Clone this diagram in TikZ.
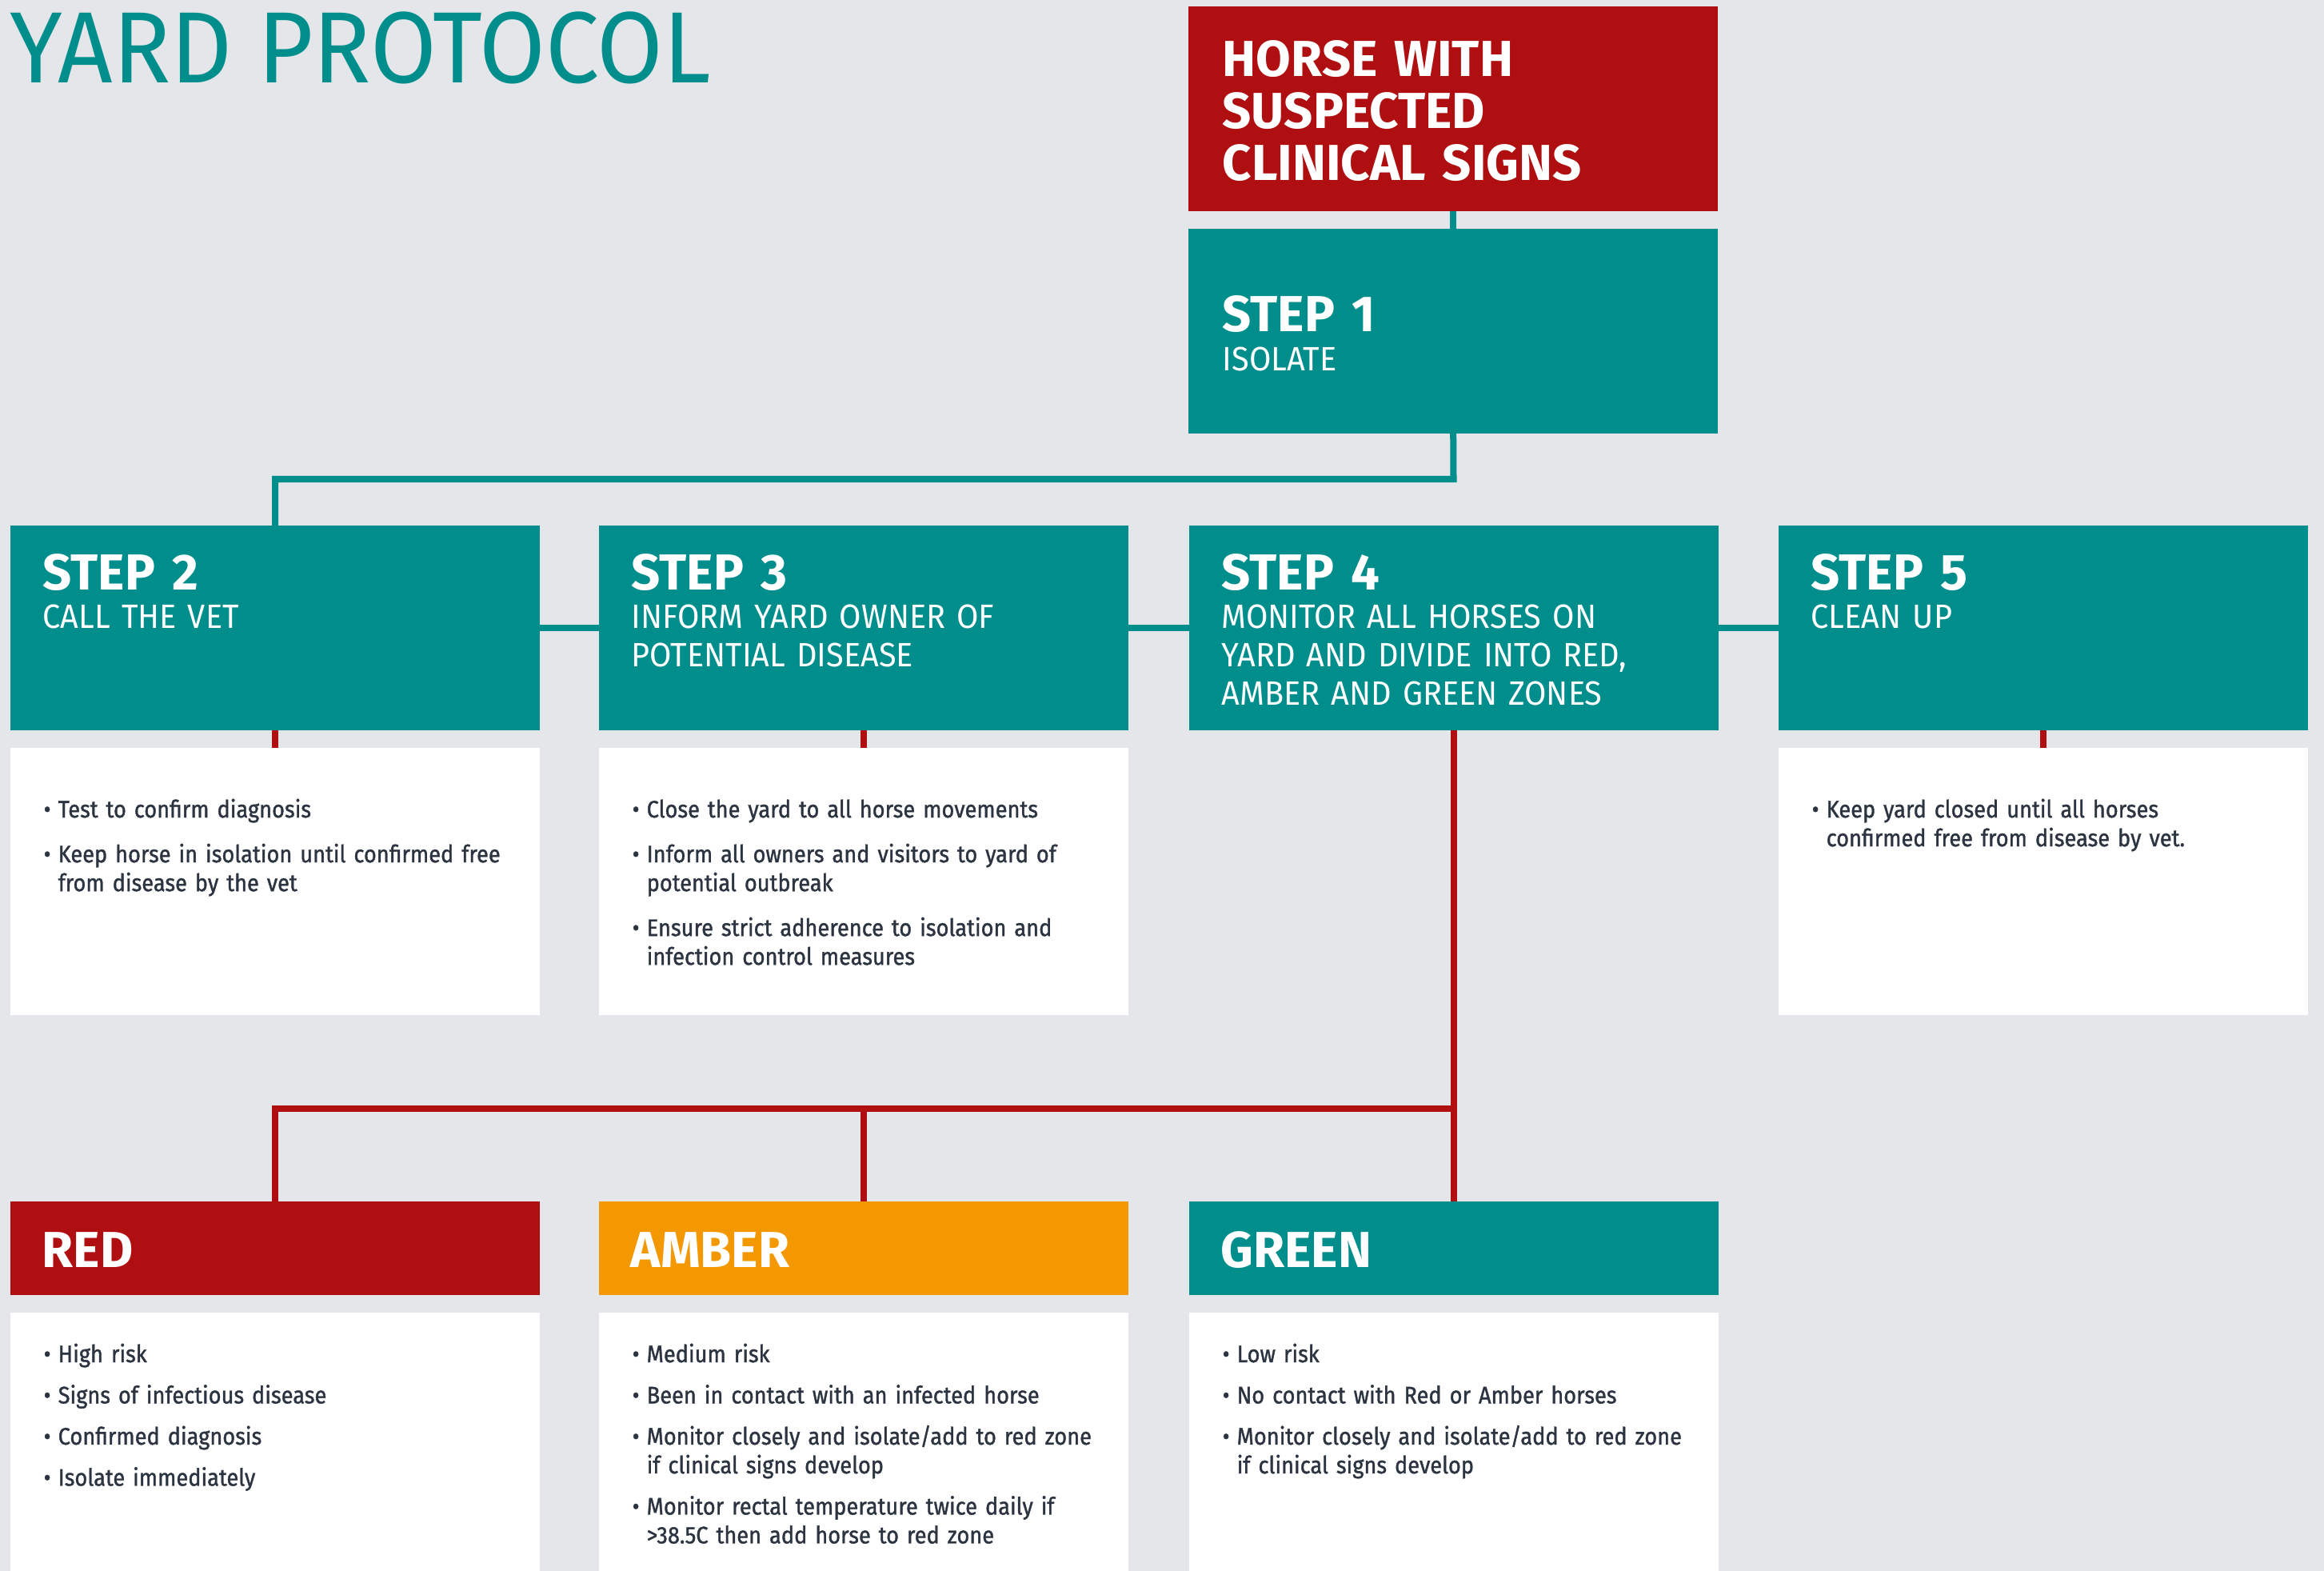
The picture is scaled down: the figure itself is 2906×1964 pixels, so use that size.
\documentclass[tikz,border=0pt]{standalone}
\usepackage{fontspec}
\setmainfont{Fira Sans}
\newfontfamily\titlefont{Fira Sans}[FakeStretch=0.945]
\newfontfamily\subfont{Fira Sans}[FakeStretch=0.94]
\newfontfamily\bulfont{Fira Sans}[FakeStretch=0.91,FakeBold=1.2]
\definecolor{yteal}{HTML}{008E8C}
\definecolor{yred}{HTML}{B00F11}
\definecolor{yamber}{HTML}{F39800}
\definecolor{ybg}{HTML}{E5E6EA}
\definecolor{ytext}{HTML}{2B3440}
\newcommand\bu{\makebox[0.18cm][l]{\textbullet}}
\newcommand\cont{\hspace*{0.18cm}}
\begin{document}
\begin{tikzpicture}[x=0.01cm,y=-0.01cm,
  box/.style={rectangle,inner sep=0pt,outer sep=0pt,anchor=north west,minimum width=6.62cm},
  hbox/.style={box,minimum height=2.56cm},
  tealbox/.style={hbox,fill=yteal},
  notebox/.style={box,fill=white,minimum height=3.34cm},
  zonebox/.style={box,minimum height=1.17cm},
  zonenote/.style={box,fill=white,minimum height=3.23cm},
  head/.style={anchor=base west,inner sep=0pt,text=white,align=left,text width=6cm,font=\bfseries\fontsize{18}{18.35}\selectfont},
  sub/.style={anchor=base west,inner sep=0pt,text=white,align=left,text width=6cm,font=\subfont\fontsize{12}{13.66}\selectfont},
  bul/.style={anchor=base west,inner sep=0pt,text=ytext,align=left,text width=6.5cm,font=\bulfont\fontsize{8.5}{10.24}\selectfont},
  tline/.style={draw=yteal,line width=0.08cm,line join=miter},
  rline/.style={draw=yred,line width=0.08cm,line join=miter},
]
\useasboundingbox (0,0) rectangle (2906,1964);
\fill[ybg] (0,0) rectangle (2906,1964);

\node[anchor=base west,inner sep=0pt,text=yteal,font=\titlefont\fontsize{36}{40}\selectfont] (title) at (12,104) {YARD PROTOCOL};

% top boxes
\node[hbox,fill=yred] (horse) at (1486,8) {};
\node[tealbox] (step1) at (1486,286) {};
\node[head] (horsetxt) at (1528,96) {HORSE WITH\\SUSPECTED\\CLINICAL SIGNS};
\node[head] (s1h) at (1528,415) {STEP 1};
\node[sub] (s1s) at (1528,464) {ISOLATE};

% step row
\node[tealbox] (step2) at (13,657) {};
\node[tealbox] (step3) at (749,657) {};
\node[tealbox] (step4) at (1487,657) {};
\node[tealbox] (step5) at (2224,657) {};
\node[head] (s2h) at (53,737) {STEP 2};
\node[head] (s3h) at (789,737) {STEP 3};
\node[head] (s4h) at (1527,737) {STEP 4};
\node[head] (s5h) at (2264,737) {STEP 5};
\node[sub] (s2s) at (53,785) {CALL THE VET};
\node[sub] (s3s) at (789,785) {INFORM YARD OWNER OF\\POTENTIAL DISEASE};
\node[sub] (s4s) at (1527,785) {MONITOR ALL HORSES ON\\YARD AND DIVIDE INTO RED,\\AMBER AND GREEN ZONES};
\node[sub] (s5s) at (2264,785) {CLEAN UP};

% step notes
\node[notebox] (note2) at (13,935) {};
\node[notebox] (note3) at (749,935) {};
\node[notebox] (note5) at (2224,935) {};
\node[bul] (n2t) at (54,1022) {\bu Test to confirm diagnosis\\[5.7pt]
\bu Keep horse in isolation until confirmed free\\
\cont from disease by the vet};
\node[bul] (n3t) at (790,1022) {\bu Close the yard to all horse movements\\[5.7pt]
\bu Inform all owners and visitors to yard of\\
\cont potential outbreak\\[5.7pt]
\bu Ensure strict adherence to isolation and\\
\cont infection control measures};
\node[bul] (n5t) at (2265,1022) {\bu Keep yard closed until all horses\\
\cont confirmed free from disease by vet.};

% zones
\node[zonebox,fill=yred] (red) at (13,1502) {};
\node[zonebox,fill=yamber] (amber) at (749,1502) {};
\node[zonebox,fill=yteal] (green) at (1487,1502) {};
\node[head] (redh) at (52,1584) {RED};
\node[head] (amberh) at (788,1584) {AMBER};
\node[head] (greenh) at (1526,1584) {GREEN};

\node[zonenote] (rednote) at (13,1641) {};
\node[zonenote] (ambernote) at (749,1641) {};
\node[zonenote] (greennote) at (1487,1641) {};
\node[bul] (rnt) at (54,1703) {\bu High risk\\[4.4pt]
\bu Signs of infectious disease\\[4.4pt]
\bu Confirmed diagnosis\\[4.4pt]
\bu Isolate immediately};
\node[bul] (ant) at (790,1703) {\bu Medium risk\\[4.4pt]
\bu Been in contact with an infected horse\\[4.4pt]
\bu Monitor closely and isolate/add to red zone\\
\cont if clinical signs develop\\[4.4pt]
\bu Monitor rectal temperature twice daily if\\
\cont >38.5C then add horse to red zone};
\node[bul] (gnt) at (1528,1703) {\bu Low risk\\[4.4pt]
\bu No contact with Red or Amber horses\\[4.4pt]
\bu Monitor closely and isolate/add to red zone\\
\cont if clinical signs develop};

% connectors
\coordinate (tj) at (1817.5,599);
\coordinate (rj) at (1817.5,1386);
\draw[tline] (horse.south) -- (step1.north);
\draw[tline] (step1.south) -- (tj) -| (step2.north);
\draw[tline] (step2.east) -- (step3.west);
\draw[tline] (step3.east) -- (step4.west);
\draw[tline] (step4.east) -- (step5.west);
\draw[rline] (step2.south) -- (note2.north);
\draw[rline] (step3.south) -- (note3.north);
\draw[rline] (step5.south) -- (note5.north);
\draw[rline] (step4.south) -- (green.north);
\draw[rline] (rj) -| (red.north);
\draw[rline] (amber.north |- rj) -- (amber.north);
\end{tikzpicture}
\end{document}
